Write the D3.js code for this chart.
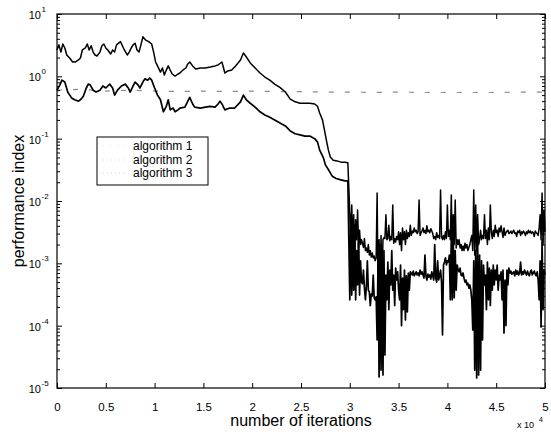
<!DOCTYPE html>
<html>
<head>
<meta charset="utf-8">
<script src="https://cdn.jsdelivr.net/npm/d3@7"></script>
<style>
  body { margin: 0; background: #fff; }
  text { font-family: Arial, "Liberation Sans", Helvetica, sans-serif; fill: #000; }
</style>
</head>
<body>
<div id="root"></div>
<script>
// legend names
const seriesNames = ['algorithm 1', 'algorithm 2', 'algorithm 3']

// axis ticks
const xTicks = [0, 5000, 10000, 15000, 20000, 25000, 30000, 35000, 40000, 45000, 50000]
const xTickLabels = ['0', '0.5', '1', '1.5', '2', '2.5', '3', '3.5', '4', '4.5', '5']
const yTicks = [1e-5, 1e-4, 1e-3, 1e-2, 1e-1, 1e0, 1e1]
const yExponents = ['-5', '-4', '-3', '-2', '-1', '0', '1']

// algorithm 1: the flat curve that stays near 0.6
const alg1 = [[0, 0.60], [2500, 0.62], [5000, 0.58], [7500, 0.60], [10000, 0.58], [12500, 0.57],
  [15000, 0.58], [17500, 0.57], [20000, 0.58], [22500, 0.57], [25000, 0.57], [27500, 0.56],
  [30000, 0.56], [32500, 0.55], [35000, 0.56], [37500, 0.55], [40000, 0.55], [42500, 0.55],
  [45000, 0.55], [47500, 0.56], [50000, 0.56]]

// algorithm 2: upper curve, before the drop at 3e4
const alg2Early = [[0, 2.65], [200, 3.2], [400, 2.45], [600, 3.3], [800, 2.85], [1000, 2.2], [1300, 1.97],
  [1600, 1.70], [1900, 1.70], [2200, 1.83], [2400, 1.97], [2600, 2.65], [2900, 2.85], [3100, 3.3],
  [3300, 2.65], [3500, 3.1], [3700, 2.45], [3900, 2.2], [4100, 2.12], [4400, 2.45], [4600, 3.1],
  [4800, 3.3], [5000, 2.85], [5200, 2.65], [5500, 2.28], [5700, 2.65], [5900, 2.45], [6100, 3.2],
  [6500, 3.6], [6700, 3.1], [6900, 2.65], [7200, 2.2], [7400, 2.45], [7600, 2.85], [7800, 3.2],
  [8000, 3.4], [8200, 2.65], [8400, 2.45], [8600, 3.2], [8800, 4.3], [9100, 3.8], [9400, 3.6],
  [9700, 3.3], [9900, 2.45], [10100, 1.70], [10300, 1.47], [10600, 1.17], [10800, 1.36],
  [11000, 1.05], [11200, 1.26], [11400, 1.47], [11600, 1.26], [11800, 1.09], [12100, 1.01],
  [12400, 1.09], [12600, 1.13], [12900, 1.26], [13200, 1.36], [13400, 1.58], [13600, 1.70],
  [13900, 1.47], [14200, 1.31], [14700, 1.36], [15200, 1.36], [15700, 1.41], [16200, 1.47],
  [16500, 1.52], [16900, 1.70], [17200, 1.13], [17500, 1.22], [17900, 1.26], [18300, 1.47],
  [18800, 1.83], [19100, 2.37], [19400, 2.04], [19800, 1.64], [20300, 1.36], [20800, 1.13],
  [21300, 0.975], [21800, 0.87], [22300, 0.75], [22800, 0.67], [23400, 0.56], [23900, 0.43],
  [24400, 0.39], [24900, 0.37], [25400, 0.37], [25900, 0.37], [26400, 0.36], [26700, 0.33],
  [26900, 0.26], [27200, 0.20], [27400, 0.138], [27600, 0.095], [27800, 0.066], [28000, 0.051],
  [28300, 0.045], [28700, 0.044], [29100, 0.042], [29500, 0.042], [29800, 0.041]]

// algorithm 3: lower curve, before the drop at 3e4
const alg3Early = [[0, 0.60], [300, 0.73], [500, 0.87], [800, 0.81], [1100, 0.56], [1300, 0.50],
  [1500, 0.45], [1800, 0.42], [2200, 0.40], [2400, 0.42], [2700, 0.48], [3000, 0.65], [3200, 0.75],
  [3400, 0.73], [3700, 0.60], [4000, 0.56], [4400, 0.60], [4700, 0.70], [5000, 0.65], [5400, 0.75],
  [5700, 0.65], [5900, 0.50], [6200, 0.60], [6600, 0.70], [7000, 0.75], [7300, 0.65], [7500, 0.56],
  [7800, 0.70], [8000, 0.81], [8300, 0.73], [8500, 0.65], [8800, 0.81], [9000, 0.91], [9300, 0.87],
  [9500, 0.94], [9700, 0.87], [10000, 0.65], [10300, 0.50], [10600, 0.42], [10900, 0.27],
  [11200, 0.33], [11400, 0.42], [11600, 0.29], [11900, 0.31], [12100, 0.27], [12400, 0.29],
  [12600, 0.31], [13100, 0.32], [13600, 0.46], [13900, 0.36], [14100, 0.32], [14700, 0.31],
  [15200, 0.32], [15700, 0.33], [16200, 0.32], [16500, 0.36], [16700, 0.40], [16900, 0.36],
  [17200, 0.29], [17700, 0.31], [18200, 0.31], [18800, 0.39], [19100, 0.50], [19400, 0.42],
  [19800, 0.37], [20300, 0.32], [20800, 0.27], [21300, 0.24], [21800, 0.22], [22300, 0.20],
  [22800, 0.18], [23400, 0.16], [23900, 0.133], [24400, 0.12], [24900, 0.115], [25400, 0.11],
  [25900, 0.11], [26400, 0.10], [26700, 0.088], [26900, 0.066], [27300, 0.049], [27500, 0.038],
  [27800, 0.032], [28200, 0.025], [28600, 0.023], [29000, 0.022], [29500, 0.021], [29800, 0.021]]

// noisy part, one value every 100 iterations from 30000 to 50000
const noisyIters = d3.range(30000, 50001, 100)
const alg2Noisy = [
  0.0064, 0.0016, 0.0086, 0.002, 0.006, 0.0011, 0.005, 0.0024, 0.0072, 0.00176, 0.0034, 0.002, 0.0024,
  0.0021, 0.0018, 0.0025, 0.0016, 0.00176, 0.0015, 0.002, 0.00136, 0.0016, 0.00126, 0.00146, 0.00122, 0.00131, 0.0011, 0.00122,
  0.0134, 0.00026, 0.0024, 0.00037, 0.0028, 0.00054, 0.0024, 0.0026, 0.0025,
  0.006, 0.0024, 0.0025, 0.0041, 0.0023, 0.0027, 0.0024, 0.0086, 0.0021, 0.0025, 0.0022, 0.0027, 0.0024, 0.0032,
  0.002, 0.0031, 0.0016, 0.0037, 0.0024, 0.0032, 0.002, 0.0034, 0.0025, 0.0031, 0.0027, 0.0041,
  0.0028, 0.0033, 0.0031, 0.0037, 0.0032, 0.0034, 0.003, 0.0032, 0.0104, 0.0028, 0.0031, 0.0033,
  0.0037, 0.0031, 0.0034, 0.003, 0.004, 0.0032, 0.0034, 0.0031, 0.0036, 0.0033, 0.003,
  0.0025, 0.0027, 0.0024, 0.0031, 0.0026, 0.0028, 0.0025, 0.015, 0.0027,
  0.0024, 0.0028,
  0.0024, 0.0032, 0.0025, 0.0086, 0.0027, 0.0034, 0.0024,
  0.0125, 0.0016, 0.006, 0.002, 0.0104, 0.00176, 0.0024,
  0.002, 0.0024, 0.00176, 0.002, 0.0016, 0.0019, 0.0016, 0.0021, 0.00176, 0.002, 0.0016, 0.0018, 0.002, 0.0024,
  0.0028, 0.0016, 0.015, 0.00136, 0.0086, 0.0016, 0.006, 0.002, 0.0024, 0.0034, 0.0024, 0.0028, 0.0025,
  0.006, 0.0025, 0.0034, 0.002, 0.0037, 0.0024, 0.0086, 0.0032, 0.0025, 0.0034, 0.0027, 0.0041,
  0.0031, 0.0034, 0.0027, 0.0037, 0.0032, 0.004,
  0.0032, 0.0026, 0.0037, 0.0028, 0.0031, 0.0033, 0.0034, 0.003,
  0.0031, 0.0033, 0.003, 0.0032, 0.0034, 0.003, 0.0031, 0.0027, 0.0033, 0.0031, 0.0034, 0.0028, 0.0032, 0.003,
  0.0033, 0.0031, 0.0028, 0.0032, 0.003, 0.0034, 0.0031, 0.0033, 0.003, 0.0032, 0.0031, 0.0027, 0.0033, 0.0031, 0.003,
  0.0028, 0.0037, 0.006, 0.0024, 0.0134, 0.002, 0.0072, 0.0032]
const alg3Noisy = [
  0.00026, 0.006, 0.00031, 0.0024, 0.00037, 0.0041, 0.00026, 0.0016, 0.00045, 0.0034, 0.00031, 0.0011, 0.0005,
  0.00047, 0.00078, 0.0004, 0.00026, 0.00043, 0.0011, 0.00037, 0.00035, 0.00021, 0.00032, 0.0003, 0.00065, 0.00028, 0.00026, 0.00029,
  0.000059, 0.0016, 0.000015, 0.002, 0.0000194, 0.0011, 0.0000162, 0.0016, 0.000034,
  0.00065, 0.00026, 0.00105, 0.00018, 0.00078, 0.00045, 0.0016, 0.00037, 0.00065, 0.00021, 0.00084, 0.00054, 0.00073, 0.00037,
  0.00026, 0.00094, 0.0001, 0.00058, 0.00018, 0.00078, 0.000123, 0.00063, 0.000166, 0.0007, 0.00037, 0.00073,
  0.0007, 0.00065, 0.00075, 0.00063, 0.00067, 0.00073, 0.00065, 0.0007, 0.00063, 0.00078, 0.00067, 0.00073,
  0.00065, 0.00058, 0.00136, 0.00063, 0.00054, 0.00067, 0.0006, 0.00065, 0.00056, 0.00073, 0.00063,
  0.00054, 0.002, 0.00058, 0.0005, 0.0011, 0.00054, 0.00063, 0.00078, 0.0005,
  0.000071, 0.00094,
  0.00105, 0.00122, 0.00094, 0.0011, 0.00105, 0.00136, 0.00026,
  0.0028, 0.00026, 0.0024, 0.00028, 0.0016, 0.00037, 0.00094,
  0.00078, 0.00073, 0.00084, 0.00065, 0.00063, 0.0007, 0.00058, 0.0005, 0.00054, 0.00045, 0.00048, 0.0004, 0.00045, 0.00037,
  0.00026, 0.000085, 0.0011, 0.0000194, 0.0016, 0.0000145, 0.0024, 0.0000162, 0.00136, 0.0000194, 0.0011, 0.000059, 0.00094,
  0.00045, 0.00065, 0.00018, 0.00105, 0.00026, 0.00084, 0.00021, 0.00078, 0.00037, 0.00094, 0.00045, 0.00078,
  0.00054, 0.00094, 0.00037, 0.00065, 0.00054, 0.00073,
  0.00026, 0.00078, 0.000076, 0.00054, 0.0001, 0.00078, 0.00045, 0.00084,
  0.0007, 0.00075, 0.00067, 0.0007, 0.00073, 0.00063, 0.00078, 0.00067, 0.00075, 0.00065, 0.0007, 0.00105, 0.00065, 0.00073,
  0.00067, 0.00078, 0.0007, 0.00065, 0.00075, 0.00067, 0.00063, 0.00073, 0.00078, 0.00065, 0.0007, 0.00075, 0.00067, 0.00063, 0.00073,
  0.00054, 0.00026, 0.0011, 0.000095, 0.0024, 0.00018, 0.00078, 0.00065]

const W = 551, H = 439
const margin = {left: 57, right: 6, top: 14, bottom: 51}

const svg = d3.select('#root').append('svg')
  .attr('width', W).attr('height', H)

const x = d3.scaleLinear().domain([0, 50000]).range([margin.left, W - margin.right])
const y = d3.scaleLog().domain([1e-5, 10]).range([H - margin.bottom, margin.top])

const line = d3.line().x(d => x(d[0])).y(d => y(d[1]))

const alg2 = alg2Early.concat(noisyIters.map((it, i) => [it, alg2Noisy[i]]))
const alg3 = alg3Early.concat(noisyIters.map((it, i) => [it, alg3Noisy[i]]))

const plot = svg.append('g')

plot.append('path').datum(alg1)
  .attr('fill', 'none').attr('stroke', '#8c8c8c').attr('stroke-width', 1.2)
  .attr('stroke-dasharray', '5,11').attr('d', line)

plot.append('path').datum(alg2)
  .attr('fill', 'none').attr('stroke', '#000').attr('stroke-width', 1.5)
  .attr('stroke-linejoin', 'round').attr('d', line)

plot.append('path').datum(alg3)
  .attr('fill', 'none').attr('stroke', '#000').attr('stroke-width', 1.7)
  .attr('stroke-linejoin', 'round').attr('d', line)

// box
const x0 = x.range()[0], x1 = x.range()[1], y0 = y.range()[0], y1 = y.range()[1]
svg.append('rect').attr('x', x0).attr('y', y1).attr('width', x1 - x0).attr('height', y0 - y1)
  .attr('fill', 'none').attr('stroke', '#000').attr('stroke-width', 1.2)

// ticks inward, on all four sides
const bottomAxis = d3.axisBottom(x).tickValues(xTicks).tickSize(-5).tickFormat((d, i) => xTickLabels[i]).tickPadding(15)
const gx = svg.append('g').attr('transform', `translate(0,${y0})`).call(bottomAxis)
gx.select('.domain').remove()
gx.selectAll('text').attr('font-size', 11.5).attr('font-family', 'Arial, "Liberation Sans", sans-serif')

const topAxis = d3.axisTop(x).tickValues(xTicks).tickSize(-5).tickFormat('')
const gxt = svg.append('g').attr('transform', `translate(0,${y1})`).call(topAxis)
gxt.select('.domain').remove()

const minorY = []
for (let e = -5; e < 1; e++) for (let k = 2; k < 10; k++) minorY.push(k * Math.pow(10, e))

const gyl = svg.append('g').attr('transform', `translate(${x0},0)`)
  .call(d3.axisLeft(y).tickValues(yTicks).tickSize(-5).tickFormat(''))
gyl.select('.domain').remove()
const gylm = svg.append('g').attr('transform', `translate(${x0},0)`)
  .call(d3.axisLeft(y).tickValues(minorY).tickSize(-3).tickFormat(''))
gylm.select('.domain').remove()
const gyr = svg.append('g').attr('transform', `translate(${x1},0)`)
  .call(d3.axisRight(y).tickValues(yTicks).tickSize(-5).tickFormat(''))
gyr.select('.domain').remove()
const gyrm = svg.append('g').attr('transform', `translate(${x1},0)`)
  .call(d3.axisRight(y).tickValues(minorY).tickSize(-3).tickFormat(''))
gyrm.select('.domain').remove()
svg.selectAll('.tick line').attr('stroke', '#000')

// y tick labels as 10 with a superscript
const ylab = svg.append('g')
yTicks.forEach((v, i) => {
  ylab.append('text').attr('x', 41).attr('y', y(v) + 5)
    .attr('text-anchor', 'end').attr('font-size', 11).text('10')
  ylab.append('text').attr('x', 41.5).attr('y', y(v) - 2)
    .attr('font-size', 8).text(yExponents[i])
})

// axis titles
svg.append('text').attr('x', (x0 + x1) / 2).attr('y', 426)
  .attr('text-anchor', 'middle').attr('font-size', 16).text('number of iterations')
svg.append('text').attr('transform', `translate(24,${(y0 + y1) / 2}) rotate(-90)`)
  .attr('text-anchor', 'middle').attr('font-size', 16).text('performance index')

// x 10^4 multiplier
svg.append('text').attr('x', 517).attr('y', 428).attr('font-size', 9).text('x 10')
svg.append('text').attr('x', 539).attr('y', 422).attr('font-size', 7).text('4')

// legend
const lg = svg.append('g').attr('transform', 'translate(97,137)')
lg.append('rect').attr('width', 111).attr('height', 48)
  .attr('fill', '#fff').attr('stroke', '#000').attr('stroke-width', 1)
const legendY = [13, 27, 40]
const legendStroke = ['#e6e6e6', '#d9d9d9', '#d0d0d0']
seriesNames.forEach((name, i) => {
  lg.append('line').attr('x1', 6).attr('x2', 30).attr('y1', legendY[i] - 4).attr('y2', legendY[i] - 4)
    .attr('stroke', legendStroke[i]).attr('stroke-width', 1).attr('stroke-dasharray', '1,3')
  lg.append('text').attr('x', 36).attr('y', legendY[i]).attr('font-size', 12).text(name)
})
</script>
</body>
</html>
